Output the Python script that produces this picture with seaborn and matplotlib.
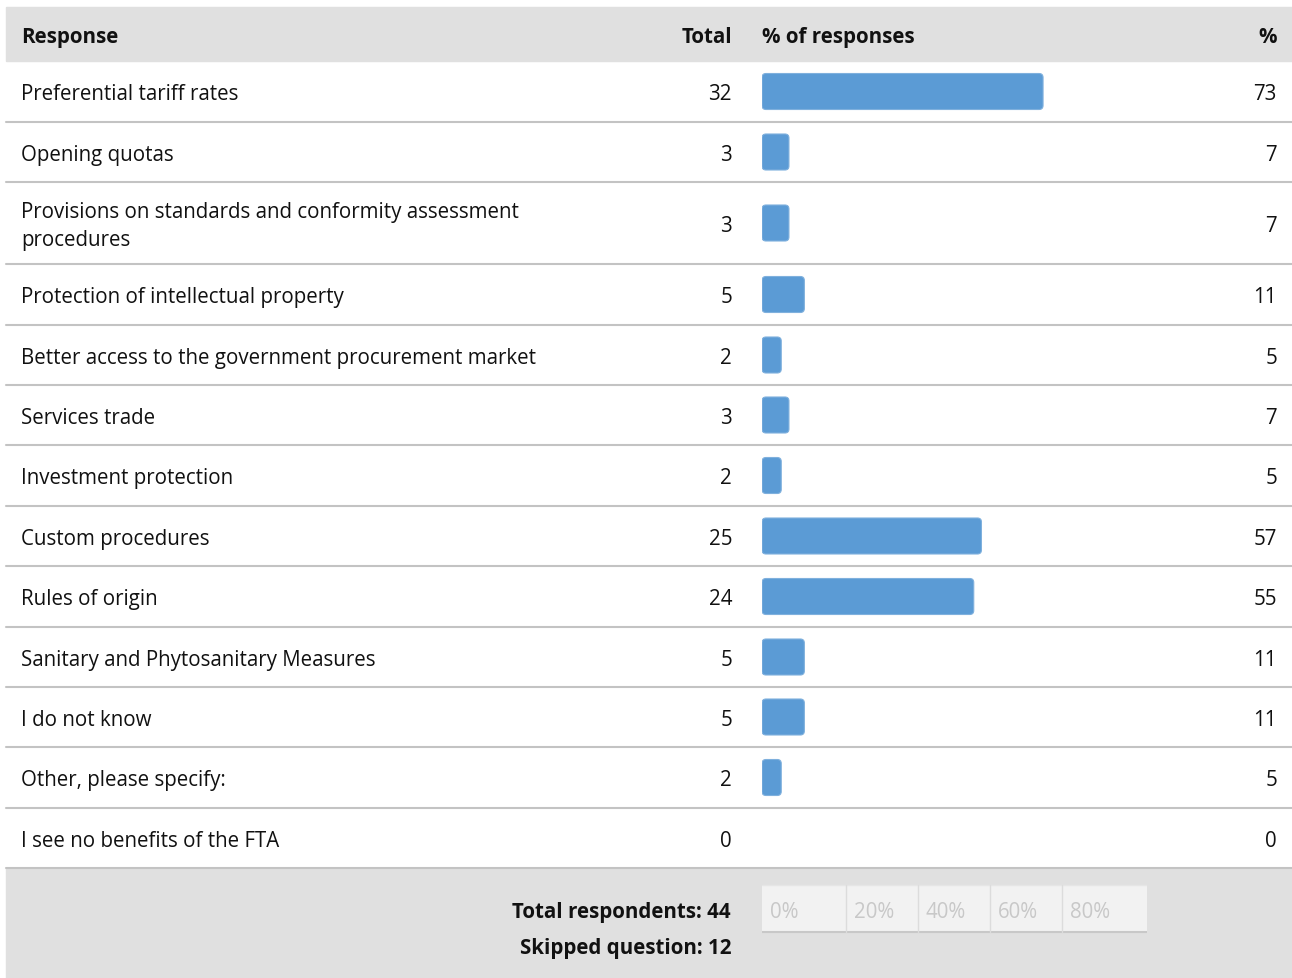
import numpy as np
import pandas as pd
import seaborn as sns
import matplotlib.pyplot as plt
from matplotlib.patches import FancyBboxPatch, Rectangle

responses = [
    "Preferential tariff rates",
    "Opening quotas",
    "Provisions on standards and conformity assessment\nprocedures",
    "Protection of intellectual property",
    "Better access to the government procurement market",
    "Services trade",
    "Investment protection",
    "Custom procedures",
    "Rules of origin",
    "Sanitary and Phytosanitary Measures",
    "I do not know",
    "Other, please specify:",
    "I see no benefits of the FTA",
]
totals = [32, 3, 3, 5, 2, 3, 2, 25, 24, 5, 5, 2, 0]
percents = [73, 7, 7, 11, 5, 7, 5, 57, 55, 11, 11, 5, 0]
total_respondents = 44
skipped_question = 12
scale_labels = ["0%", "20%", "40%", "60%", "80%"]

# layout (pixels)
W, H = 1292, 979
header_top, header_bot = 8, 62
row_heights = [61, 60, 82, 61, 60, 60, 61, 60, 61, 60, 60, 61, 60]
edges = header_bot + np.concatenate([[0], np.cumsum(row_heights)])
centers = (edges[:-1] + edges[1:]) / 2
footer_top = edges[-1]
bar_left, bar_px = 762, 385          # x pixel of 0% and width of 100%
scale_div = [0, 21.8, 40.5, 59.2, 77.9, 100]

sns.set_style("white")
plt.rcParams['font.family'] = ['Open Sans', 'DejaVu Sans']
fs = 14.8
txt = "#111111"
line_c = "#c3c3c3"
dy = 2.5  # small downward nudge of text

fig = plt.figure(figsize=(W / 100, H / 100), dpi=100)
bg = fig.add_axes([0, 0, 1, 1])
bg.set_xlim(0, W)
bg.set_ylim(H, 0)
bg.axis("off")

# header and footer bands
bg.add_patch(Rectangle((6, header_top), W - 6, header_bot - header_top, color="#e0e0e0", zorder=0))
bg.add_patch(Rectangle((6, footer_top), W - 6, H - footer_top, color="#e0e0e0", zorder=0))
for e in edges[1:]:
    bg.plot([6, W], [e, e], color=line_c, lw=1.5, zorder=1)

hy = (header_top + header_bot) / 2 + dy
bg.text(21, hy, "Response", fontsize=fs, fontweight="bold", va="center", color=txt)
bg.text(732, hy, "Total", fontsize=fs, fontweight="bold", va="center", ha="right", color=txt)
bg.text(762, hy, "% of responses", fontsize=fs, fontweight="bold", va="center", color=txt)
bg.text(1277, hy, "%", fontsize=fs, fontweight="bold", va="center", ha="right", color=txt)

for lab, tot, pct, cy in zip(responses, totals, percents, centers):
    bg.text(21, cy + dy, lab, fontsize=fs, va="center", color=txt, linespacing=1.38)
    bg.text(732, cy + dy, str(tot), fontsize=fs, va="center", ha="right", color=txt)
    bg.text(1277, cy + dy, str(pct), fontsize=fs, va="center", ha="right", color=txt)

bg.text(731, 910 + dy, f"Total respondents: {total_respondents}", fontsize=fs,
        fontweight="bold", va="center", ha="right", color=txt)
bg.text(731, 946 + dy, f"Skipped question: {skipped_question}", fontsize=fs,
        fontweight="bold", va="center", ha="right", color=txt)

# bar column: x in percent, y in pixels
ax = fig.add_axes([bar_left / W, 0, bar_px / W, 1])
df = pd.DataFrame({"pct": percents, "row": centers})
sns.barplot(data=df, x="pct", y="row", orient="h", native_scale=True,
            width=36 / 60, color="#5b9bd5", errorbar=None, saturation=1, ax=ax)
ax.set_xlim(0, 100)
ax.set_ylim(H, 0)
ax.axis("off")
ax.patch.set_alpha(0)

# rounded corners
sx = bar_px / 100
for p in list(ax.patches):
    x0, y0 = p.get_x(), p.get_y()
    w, h = p.get_width(), p.get_height()
    p.remove()
    if w <= 0:
        continue
    ax.add_patch(FancyBboxPatch((x0, y0), w, h,
                                boxstyle="round,pad=0,rounding_size=%f" % (4 / sx),
                                mutation_aspect=sx, facecolor="#5b9bd5",
                                edgecolor="#7fb0dd", lw=0.8))

# percent scale in footer
ax.add_patch(Rectangle((0, 886), 100, 47, facecolor="#f2f2f2", edgecolor="none", zorder=1))
ax.plot([0, 100], [933, 933], color="#c8c8c8", lw=1.5, zorder=2)
ax.plot([0, 100], [886, 886], color="#e6e6e6", lw=1, zorder=2)
for d in scale_div[1:-1]:
    ax.plot([d, d], [886, 933], color="#dcdcdc", lw=1, zorder=2)
for d, lab in zip(scale_div[:-1], scale_labels):
    ax.text(d + 8 / sx, 910 + dy, lab, fontsize=fs, va="center", color="#c8c8c8", zorder=3)

fig.savefig("out.png", dpi=100)
